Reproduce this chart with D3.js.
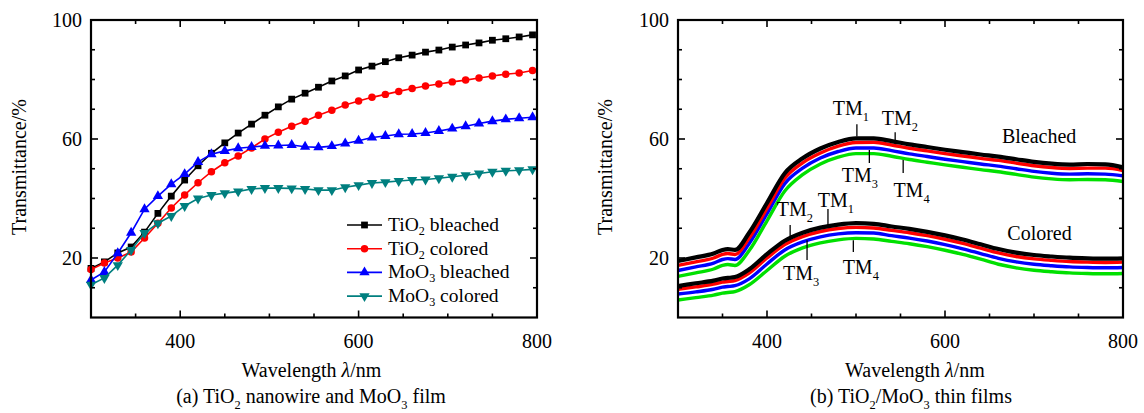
<!DOCTYPE html>
<html>
<head>
<meta charset="utf-8">
<script src="https://cdn.jsdelivr.net/npm/d3@7"></script>
<style>
  body { margin: 0; background: #fff; }
  svg text { font-family: "Liberation Serif", "Times New Roman", serif; fill: #000; }
</style>
</head>
<body>
<div id="chart"></div>
<script>
// ---------- data (a) ----------
let wlA = [300, 315, 330, 345, 360, 375, 390, 405, 420, 435, 450, 465, 480, 495, 510, 525, 540,
  555, 570, 585, 600, 615, 630, 645, 660, 675, 690, 705, 720, 735, 750, 765, 780, 795];
let tio2Bleached = [16.5, 18.7, 21.7, 23.7, 28.7, 35, 40.8, 46.2, 51, 55.2, 58.7, 62, 65, 68, 70.8, 73.4, 75.4,
  77.4, 79.5, 81.2, 83.2, 84.5, 86, 87.3, 88.2, 89.2, 89.9, 90.9, 91.6, 92.3, 93.2, 93.7, 94.3, 95];
let tio2Colored = [16.1, 18.3, 20, 22, 26.7, 31.7, 36.8, 41.2, 45.3, 49, 52, 54.3, 57, 60, 62.3, 64.3, 66,
  68, 69.7, 71.4, 72.8, 74, 75, 76, 77, 77.8, 78.5, 79.2, 79.8, 80.5, 81.2, 81.8, 82.2, 83];
let moo3Bleached = [12.6, 15.3, 21.6, 28.5, 36.4, 40.8, 44.8, 48.2, 52.3, 54.9, 56, 56.9, 57.3, 57.7, 57.8, 58, 57.4,
  57.2, 57.6, 58.5, 59.4, 60.5, 61, 61.6, 61.7, 62, 62.7, 63.5, 64.3, 65.2, 66, 66.6, 67, 67.3];
let moo3Colored = [11, 13.3, 17.6, 22.7, 28.4, 31.7, 34.1, 37.5, 40, 41.2, 41.8, 42.4, 43.2, 43.5, 43.5, 43.4, 43.2,
  42.8, 42.8, 43.8, 44.5, 45.2, 45.5, 45.9, 46.2, 46.4, 46.8, 47.3, 47.8, 48.4, 49, 49.3, 49.5, 49.8];

let seriesNamesA = [["TiO", "2", " bleached"], ["TiO", "2", " colored"], ["MoO", "3", " bleached"], ["MoO", "3", " colored"]];
let seriesColorsA = ["#000000", "#ff0000", "#0000ff", "#007f7f"];
let seriesSymbolsA = ["square", "circle", "up", "down"];

// ---------- data (b) ----------
let wlB = [300, 320, 340, 350, 356, 364, 380, 400, 420, 440, 460, 480, 500, 520, 540, 560, 580,
  600, 620, 640, 660, 680, 700, 720, 740, 760, 780, 800];
let tm1Bleached = [19, 20.2, 21.5, 22.7, 23, 22.7, 28.5, 38.5, 48.5, 53.5, 56.8, 59, 60.2, 60.2, 59.3, 58.2, 57.3,
  56.4, 55.6, 54.8, 54.1, 53.2, 52.3, 51.7, 51.4, 51.6, 51.5, 50.5];
let tm2Bleached = [17.5, 18.7, 20, 21.2, 21.5, 21.2, 26.7, 36.7, 46.8, 52, 55.3, 57.6, 58.8, 58.9, 58, 56.9, 56,
  55.1, 54.3, 53.5, 52.8, 51.9, 51, 50.4, 50.1, 50.2, 50.2, 49.4];
let tm3Bleached = [15.8, 17, 18.3, 19.5, 19.8, 19.5, 24.9, 34.9, 45, 50.2, 53.6, 55.8, 57, 57, 56.1, 55, 54.1,
  53.2, 52.4, 51.6, 50.9, 50, 49.1, 48.5, 48.2, 48.3, 48.2, 47.6];
let tm4Bleached = [13.8, 15, 16.3, 17.5, 17.8, 17.5, 22.5, 32.5, 42.5, 48, 51.6, 53.9, 55.1, 55.1, 54.2, 53.1, 52.2,
  51.3, 50.5, 49.7, 49, 48.1, 47.2, 46.6, 46.3, 46.4, 46.3, 45.7];
let tm1Colored = [10.6, 11.5, 12.4, 13.1, 13.3, 13.6, 16.2, 21.3, 25.8, 28.5, 30.2, 31.2, 31.7, 31.5, 30.6, 29.8, 28.8,
  27.6, 26.2, 24.6, 23, 21.8, 21, 20.5, 20.1, 19.9, 19.8, 19.9];
let tm2Colored = [9.5, 10.3, 11.2, 11.9, 12.1, 12.4, 14.9, 20, 24.5, 27.2, 28.9, 29.9, 30.3, 30.1, 29.3, 28.5, 27.5,
  26.3, 24.9, 23.3, 21.7, 20.5, 19.7, 19.2, 18.8, 18.6, 18.5, 18.6];
let tm3Colored = [7.9, 8.6, 9.5, 10.2, 10.4, 10.7, 13, 18, 22.7, 25.4, 27.1, 28.1, 28.5, 28.4, 27.5, 26.7, 25.7,
  24.5, 23.1, 21.5, 19.9, 18.7, 17.9, 17.4, 17, 16.8, 16.7, 16.8];
let tm4Colored = [5.9, 6.7, 7.5, 8.2, 8.4, 8.7, 11, 15.8, 20.6, 23.4, 25.1, 26.1, 26.6, 26.4, 25.6, 24.8, 23.8,
  22.6, 21.2, 19.6, 17.9, 16.7, 15.9, 15.4, 15, 14.8, 14.7, 14.8];

let colorsB = ["#000000", "#ff0000", "#0000ff", "#00e000"];

// tick values
let xMajor = [400, 600, 800];
let xMinor = [350, 450, 500, 550, 650, 700, 750];
let yMajor = [20, 60, 100];
let yMinor = [10, 30, 40, 50, 70, 80, 90];

// annotation positions (wavelength, transmittance)
let tmLabels = [
  { t: "TM", s: "1", lx: 474, ly: 68, tx: 501, y1: 60.8, y2: 65 },
  { t: "TM", s: "2", lx: 529, ly: 64.7, tx: 544, y1: 58.3, y2: 62.3 },
  { t: "TM", s: "3", lx: 484, ly: 45.6, tx: 515, y1: 51.9, y2: 56.3 },
  { t: "TM", s: "4", lx: 542, ly: 40.6, tx: 553, y1: 48.6, y2: 52.9 },
  { t: "TM", s: "2", lx: 411, ly: 34.1, tx: 426, y1: 26.2, y2: 31.1 },
  { t: "TM", s: "1", lx: 457, ly: 37.2, tx: 468.5, y1: 31.1, y2: 36.5 },
  { t: "TM", s: "3", lx: 418, ly: 12.6, tx: 445, y1: 19.3, y2: 26 },
  { t: "TM", s: "4", lx: 485, ly: 14.6, tx: 497, y1: 22, y2: 26 }
];
let groupLabels = [{ t: "Bleached", x: 664, y: 58.7 }, { t: "Colored", x: 670, y: 26 }];

// ---------- layout ----------
let width = 1144, height = 413;
let plotTop = 20, plotBottom = 317.5;

let svg = d3.select("#chart").append("svg")
  .attr("width", width)
  .attr("height", height);

let y = d3.scaleLinear().domain([0, 100]).range([plotBottom, plotTop]);

function subText(sel, parts, size, shift) {
  // parts: [main, subscript, rest]
  sel.append("tspan").text(parts[0]);
  sel.append("tspan").text(parts[1]).attr("font-size", size * 0.62).attr("dy", shift);
  if (parts[2]) sel.append("tspan").text(parts[2]).attr("dy", -shift);
}

function drawFrame(g, x) {
  let x0 = x.range()[0], x1 = x.range()[1];
  // inward ticks on all four sides
  let ticksX = xMajor.map(v => ({ v: v, len: 7 })).concat(xMinor.map(v => ({ v: v, len: 4 })));
  let ticksY = yMajor.map(v => ({ v: v, len: 7 })).concat(yMinor.map(v => ({ v: v, len: 4 })));

  g.selectAll(".tb").data(ticksX).enter().append("line")
    .attr("x1", d => x(d.v)).attr("x2", d => x(d.v))
    .attr("y1", plotBottom).attr("y2", d => plotBottom - d.len)
    .attr("stroke", "#000").attr("stroke-width", 1.6);
  g.selectAll(".tt").data(ticksX).enter().append("line")
    .attr("x1", d => x(d.v)).attr("x2", d => x(d.v))
    .attr("y1", plotTop).attr("y2", d => plotTop + d.len)
    .attr("stroke", "#000").attr("stroke-width", 1.6);
  g.selectAll(".tl").data(ticksY).enter().append("line")
    .attr("x1", x0).attr("x2", d => x0 + d.len)
    .attr("y1", d => y(d.v)).attr("y2", d => y(d.v))
    .attr("stroke", "#000").attr("stroke-width", 1.6);
  g.selectAll(".tr").data(ticksY).enter().append("line")
    .attr("x1", x1).attr("x2", d => x1 - d.len)
    .attr("y1", d => y(d.v)).attr("y2", d => y(d.v))
    .attr("stroke", "#000").attr("stroke-width", 1.6);

  g.append("rect")
    .attr("x", x0).attr("y", plotTop)
    .attr("width", x1 - x0).attr("height", plotBottom - plotTop)
    .attr("fill", "none").attr("stroke", "#000").attr("stroke-width", 2.2);

  g.selectAll(".xl").data(xMajor).enter().append("text")
    .attr("x", d => x(d)).attr("y", 348)
    .attr("text-anchor", "middle").attr("font-size", 20)
    .text(d => d);
  g.selectAll(".yl").data(yMajor).enter().append("text")
    .attr("x", x0 - 9).attr("y", d => y(d) + 7)
    .attr("text-anchor", "end").attr("font-size", 20)
    .text(d => d);
}

function drawTitles(g, xc, ty) {
  let t = g.append("text")
    .attr("x", xc).attr("y", 377)
    .attr("text-anchor", "middle").attr("font-size", 20);
  t.append("tspan").text("Wavelength ");
  t.append("tspan").text("λ").attr("font-style", "italic");
  t.append("tspan").text("/nm");

  g.append("text")
    .attr("transform", "translate(" + ty + ",167) rotate(-90)")
    .attr("text-anchor", "middle").attr("dy", "0.35em").attr("font-size", 20)
    .text("Transmittance/%");
}

// ---------- panel (a) ----------
let xA = d3.scaleLinear().domain([300, 800]).range([91, 537]);
let panelA = svg.append("g");
let seriesA = [tio2Bleached, tio2Colored, moo3Bleached, moo3Colored];

let lineA = d3.line()
  .x((d, i) => xA(wlA[i]))
  .y(d => y(d));

let sym = {
  square: d3.symbol().type(d3.symbolSquare).size(46),
  circle: d3.symbol().type(d3.symbolCircle).size(44),
  up: d3.symbol().type(d3.symbolTriangle).size(46)
};

function marker(g, type, color, px, py) {
  let p = g.append("path")
    .attr("d", type === "down" ? sym.up() : sym[type]())
    .attr("fill", color);
  if (type === "down") p.attr("transform", "translate(" + px + "," + py + ") rotate(180)");
  else p.attr("transform", "translate(" + px + "," + py + ")");
}

seriesA.forEach((vals, k) => {
  let g = panelA.append("g");
  g.append("path")
    .datum(vals)
    .attr("d", lineA)
    .attr("fill", "none")
    .attr("stroke", seriesColorsA[k])
    .attr("stroke-width", 1.6);
  vals.forEach((v, i) => marker(g, seriesSymbolsA[k], seriesColorsA[k], xA(wlA[i]), y(v)));
});

drawFrame(panelA, xA);
drawTitles(panelA, 311.5, 19);

// legend
let legend = panelA.append("g");
seriesNamesA.forEach((n, k) => {
  let ly = 225 + k * 23.7;
  legend.append("line")
    .attr("x1", 347).attr("x2", 382).attr("y1", ly).attr("y2", ly)
    .attr("stroke", seriesColorsA[k]).attr("stroke-width", 1.6);
  marker(legend, seriesSymbolsA[k], seriesColorsA[k], 364.5, ly);
  let t = legend.append("text")
    .attr("x", 388).attr("y", ly + 6).attr("font-size", 19.5);
  subText(t, n, 19.5, 4);
});

let capA = panelA.append("text")
  .attr("x", 311).attr("y", 403)
  .attr("text-anchor", "middle").attr("font-size", 20);
capA.append("tspan").text("(a) TiO");
capA.append("tspan").text("2").attr("font-size", 12.4).attr("dy", 6);
capA.append("tspan").text(" nanowire and MoO").attr("dy", -6);
capA.append("tspan").text("3").attr("font-size", 12.4).attr("dy", 6);
capA.append("tspan").text(" film").attr("dy", -6);

// ---------- panel (b) ----------
let xB = d3.scaleLinear().domain([300, 800]).range([678, 1123]);
let panelB = svg.append("g");

let lineB = d3.line()
  .x((d, i) => xB(wlB[i]))
  .y(d => y(d))
  .curve(d3.curveMonotoneX);

let seriesB = [
  [tm4Bleached, tm3Bleached, tm2Bleached, tm1Bleached],
  [tm4Colored, tm3Colored, tm2Colored, tm1Colored]
];
seriesB.forEach(group => {
  group.forEach((vals, k) => {
    let c = colorsB[3 - k];
    panelB.append("path")
      .datum(vals)
      .attr("d", lineB)
      .attr("fill", "none")
      .attr("stroke", c)
      .attr("stroke-width", c === "#000000" ? 4.2 : 3.4)
      .attr("stroke-linejoin", "round");
  });
});

drawFrame(panelB, xB);
drawTitles(panelB, 915, 605);

// TM annotations
tmLabels.forEach(d => {
  panelB.append("line")
    .attr("x1", xB(d.tx)).attr("x2", xB(d.tx))
    .attr("y1", y(d.y1)).attr("y2", y(d.y2))
    .attr("stroke", "#000").attr("stroke-width", 1.3);
  let t = panelB.append("text")
    .attr("x", xB(d.lx)).attr("y", y(d.ly)).attr("font-size", 20);
  subText(t, [d.t, d.s], 20, 6);
});
groupLabels.forEach(d => {
  panelB.append("text")
    .attr("x", xB(d.x)).attr("y", y(d.y))
    .attr("font-size", 20)
    .text(d.t);
});

let capB = panelB.append("text")
  .attr("x", 911).attr("y", 403)
  .attr("text-anchor", "middle").attr("font-size", 20);
capB.append("tspan").text("(b) TiO");
capB.append("tspan").text("2").attr("font-size", 12.4).attr("dy", 6);
capB.append("tspan").text("/MoO").attr("dy", -6);
capB.append("tspan").text("3").attr("font-size", 12.4).attr("dy", 6);
capB.append("tspan").text(" thin films").attr("dy", -6);
</script>
</body>
</html>
